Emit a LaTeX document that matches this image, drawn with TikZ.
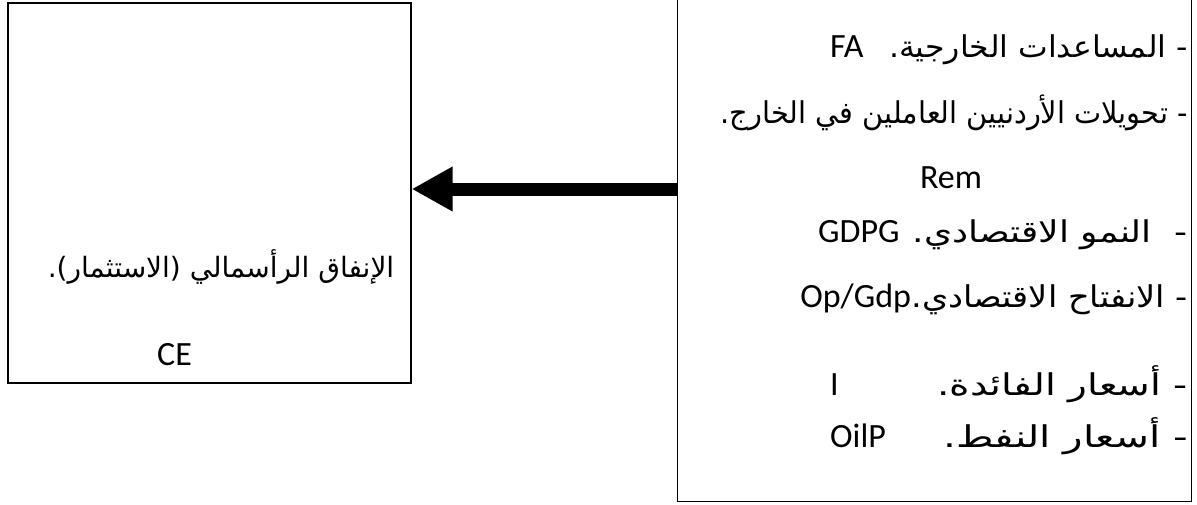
\documentclass[tikz,border=0pt]{standalone}
\usepackage{fontspec}
\usepackage{graphicx}
\setmainfont{Carlito}
\newfontfamily\arabicfont[Script=Arabic]{DejaVu Sans}
\TeXXeTstate=1
\usetikzlibrary{arrows.meta}
\begin{document}
\begin{tikzpicture}[x=1pt,y=-1pt,
  box/.style={draw, line width=1.4pt, inner sep=0pt},
  ar/.style={font=\arabicfont\fontsize{30}{36}\selectfont, inner sep=0pt, anchor=base east},
  la/.style={font=\fontsize{34}{40}\selectfont, inner sep=0pt, anchor=base west},
  bigarrow/.style={line width=13pt, -{Triangle[length=41pt,width=42pt]}}]
\useasboundingbox (0,0) rectangle (1197,504);
\fill[white] (0,0) rectangle (1197,504);
% boxes
\node[box, minimum width=403pt, minimum height=380pt] (ce) at (209.5,193) {};
\node[box, minimum width=514pt, minimum height=530pt, anchor=south west] (vars) at (677,502) {};
% arrow
\coordinate (ay) at (0,189);
\draw[bigarrow] (vars.west |- ay) -- (ce.east |- ay);
% right box texts
\node[ar] (t1) at (1188,57) {\scalebox{1.05}[1]{\beginR - المساعدات الخارجية.\endR}};
\node[la] (fa) at (830,57) {FA};
\node[ar] (t2) at (1188,123) {\scalebox{0.96}[1]{\beginR - تحويلات الأردنيين العاملين في الخارج.\endR}};
\node[la, anchor=base] (rem) at (951,188) {Rem};
\node[ar] (t4) at (1188,242) {\scalebox{1.2}[1]{\beginR -\ \ النمو الاقتصادي.\endR}};
\node[la] (gdpg) at (818,242) {GDPG};
\node[ar] (t5) at (1188,307) {\scalebox{1.12}[1]{\beginR - الانفتاح الاقتصادي.\endR}};
\node[la, anchor=base east] (op) at (t5.base west) {Op/Gdp};
\node[ar] (t6) at (1188,395) {\scalebox{1.3}[1]{\beginR - أسعار الفائدة.\endR}};
\node[la] (i) at (830,395) {I};
\node[ar] (t7) at (1188,447) {\scalebox{1.35}[1]{\beginR - أسعار النفط.\endR}};
\node[la] (oilp) at (830,447) {OilP};
% left box texts
\node[ar, anchor=base, font=\arabicfont\fontsize{28}{34}\selectfont] (cetext) at (221,277) {\beginR الإنفاق الرأسمالي (الاستثمار).\endR};
\node[la, anchor=base] (cel) at (174.5,365) {CE};
\end{tikzpicture}
\end{document}
